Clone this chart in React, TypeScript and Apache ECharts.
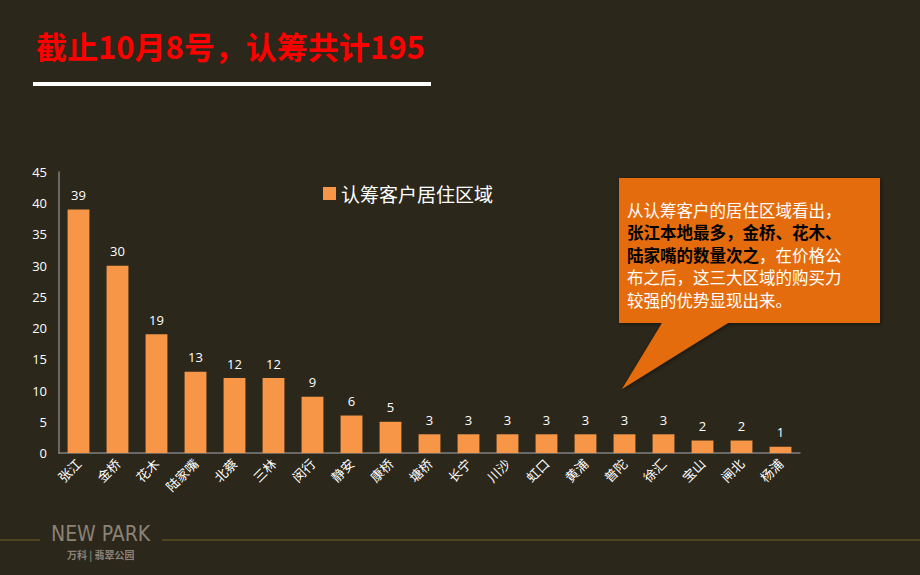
import React, { useEffect, useRef } from "react";
import * as echarts from "echarts";

const categories = ["张江", "金桥", "花木", "陆家嘴", "北蔡", "三林", "闵行", "静安", "康桥", "塘桥", "长宁", "川沙", "虹口", "黄浦", "普陀", "徐汇", "宝山", "闸北", "杨浦"];
const values = [39, 30, 19, 13, 12, 12, 9, 6, 5, 3, 3, 3, 3, 3, 3, 3, 2, 2, 1];
const seriesName = "认筹客户居住区域";
const titleText = "截止10月8号，认筹共计195";
const yMax = 45;
const yInterval = 5;
const calloutLines = [
  "{n|从认筹客户的居住区域看出，}",
  "{b|张江本地最多，金桥、花木、}",
  "{b|陆家嘴的数量次之}{n|，在价格公}",
  "{n|布之后，这三大区域的购买力}",
  "{n|较强的优势显现出来。}",
];

const BG = "#2b271b";
const BAR = "#f79646";
const FONT = "'Noto Sans CJK SC', 'Noto Sans', sans-serif";
const NUMFONT = "'Open Sans', 'Noto Sans CJK SC', sans-serif";

export default function App() {
  const ref = useRef<HTMLDivElement>(null);
  useEffect(() => {
    document.body.style.margin = "0";
    document.body.style.background = BG;
    const chart = echarts.init(ref.current!, null, { renderer: "svg" });
    const rich = {
      n: { fill: "#ffffff", fontSize: 16.5, fontFamily: FONT, lineHeight: 18 },
      b: { fill: "#000000", fontSize: 16.5, fontWeight: "bold", fontFamily: FONT, lineHeight: 18 },
    };
    chart.setOption({
      animation: false,
      backgroundColor: BG,
      grid: { left: 59, right: 120, top: 172, bottom: 122, containLabel: false },
      legend: {
        data: [seriesName],
        left: 318,
        top: 179,
        icon: "rect",
        itemWidth: 13,
        itemHeight: 13,
        itemGap: 5,
        textStyle: { color: "#ffffff", fontSize: 19, fontFamily: FONT },
      },
      xAxis: {
        type: "category",
        data: categories,
        axisLine: { show: true, lineStyle: { color: "#7f7f7f", width: 1.5 } },
        axisTick: { show: false },
        axisLabel: {
          color: "#ffffff",
          fontSize: 13,
          fontFamily: FONT,
          rotate: 45,
          interval: 0,
          margin: 8,
        },
      },
      yAxis: {
        type: "value",
        min: 0,
        max: yMax,
        interval: yInterval,
        axisLine: { show: true, lineStyle: { color: "#7f7f7f", width: 1.5 } },
        axisTick: { show: false },
        splitLine: { show: false },
        axisLabel: { color: "#ffffff", fontSize: 13, fontFamily: NUMFONT, margin: 12 },
      },
      series: [
        {
          name: seriesName,
          type: "bar",
          data: values,
          barWidth: "56%",
          itemStyle: { color: BAR },
          label: {
            show: true,
            position: "top",
            color: "#ffffff",
            fontSize: 13,
            fontFamily: NUMFONT,
            distance: 8,
          },
        },
      ],
      graphic: [
        {
          type: "text",
          left: 36,
          top: 30,
          style: {
            text: titleText,
            fill: "#ff0000",
            font: `bold 31px ${FONT}`,
          },
        },
        {
          type: "rect",
          shape: { x: 33, y: 82, width: 398, height: 4 },
          style: { fill: "#ffffff" },
        },
        {
          type: "polygon",
          shape: {
            points: [
              [619, 178],
              [880, 178],
              [880, 323],
              [728, 323],
              [622, 389],
              [662, 323],
              [619, 323],
            ],
          },
          style: { fill: "#e46c0a", shadowColor: "rgba(0,0,0,0.5)", shadowBlur: 4, shadowOffsetX: 1, shadowOffsetY: 1 },
        },
        ...calloutLines.map((t, i) => ({
          type: "text",
          x: 627,
          y: 209.5 + 22.5 * i,
          style: {
            text: t,
            align: "left",
            verticalAlign: "middle",
            rich,
          },
        })),
        {
          type: "line",
          shape: { x1: 0, y1: 540, x2: 40, y2: 540 },
          style: { stroke: "#5c4d22", lineWidth: 1.5 },
        },
        {
          type: "line",
          shape: { x1: 162, y1: 540, x2: 920, y2: 540 },
          style: { stroke: "#5c4d22", lineWidth: 1.5 },
        },
        {
          type: "text",
          left: 51,
          top: 523,
          style: {
            text: "NEW PARK",
            fill: "#8c8277",
            font: `21px 'Liberation Sans Narrow', 'DejaVu Sans Condensed', sans-serif`,
          },
        },
        {
          type: "text",
          left: 67,
          top: 549,
          style: {
            text: "万科 | 翡翠公园",
            fill: "#8c8277",
            font: `bold 10px ${FONT}`,
          },
        },
      ],
    });
    return () => chart.dispose();
  }, []);
  return <div ref={ref} style={{ width: 920, height: 575 }} />;
}
